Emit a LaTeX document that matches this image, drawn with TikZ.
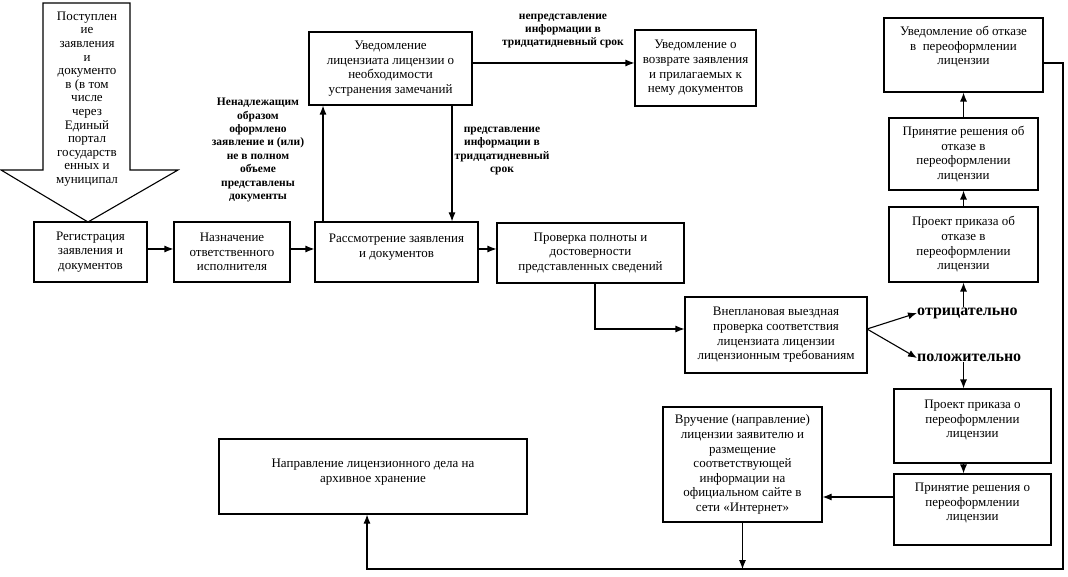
\documentclass[tikz,border=0pt]{standalone}
\usepackage{fontspec}
\setmainfont{Liberation Serif}
\usetikzlibrary{arrows.meta}
\begin{document}
\begin{tikzpicture}[x=1pt,y=-1pt,
  box/.style={draw, line width=1.1pt, align=center, inner sep=1pt, font=\fontsize{13}{14.6}\selectfont},
  txt/.style={align=center, inner sep=0pt, font=\fontsize{13}{14.6}\selectfont},
  lbl/.style={align=center, inner sep=0pt, font=\bfseries\fontsize{11.5}{13.4}\selectfont},
  big/.style={inner sep=0pt, font=\bfseries\fontsize{16}{18}\selectfont},
  arr/.style={-{Latex[length=9pt,width=7pt]}, line width=1.1pt},
  ln/.style={line width=1.1pt}]
\useasboundingbox (0,0) rectangle (1068,577);

% big incoming arrow
\draw[line width=1.1pt, line join=miter] (43,3) -- (130,3) -- (130,170) -- (178,170) -- (88,222) -- (1,170) -- (43,170) -- cycle;
\coordinate (tip) at (88,222);
\node[txt, font=\fontsize{13}{13.6}\selectfont] (intext) at (87,99) {Поступлен\\ие\\заявления\\и\\документо\\в (в том\\числе\\через\\Единый\\портал\\государств\\енных и\\муниципал};

% boxes
\node[box, minimum width=113, minimum height=60] (reg) at (90.5,252) {Регистрация\\заявления и\\документов};
\node[box, minimum width=116, minimum height=60] (nazn) at (232,252) {Назначение\\ответственного\\исполнителя};
\node[box, minimum width=163, minimum height=60] (rassm) at (396.5,252) {};
\node[txt] (rassmt) at (396.5,247) {Рассмотрение заявления\\и документов};
\node[box, minimum width=187, minimum height=60] (prov) at (590.5,253) {Проверка полноты и\\достоверности\\представленных сведений};
\node[box, minimum width=182, minimum height=76] (vnepl) at (776,335) {Внеплановая выездная\\проверка соответствия\\лицензиата лицензии\\лицензионным требованиям};
\node[box, minimum width=163, minimum height=73] (uvedl) at (390.5,68.5) {Уведомление\\лицензиата лицензии о\\необходимости\\устранения замечаний};
\node[box, minimum width=121, minimum height=76] (vozvr) at (695.5,68) {Уведомление о\\возврате заявления\\и прилагаемых к\\нему документов};
\node[box, minimum width=159, minimum height=74] (uvotk) at (963.5,55) {};
\node[txt] (uvotkt) at (963.5,47) {Уведомление об отказе\\в~~переоформлении\\лицензии};
\node[box, minimum width=149, minimum height=72] (prinotk) at (963.5,154) {Принятие решения об\\отказе в\\переоформлении\\лицензии};
\node[box, minimum width=149, minimum height=75] (proektotk) at (963.5,244.5) {Проект приказа об\\отказе в\\переоформлении\\лицензии};
\node[box, minimum width=157, minimum height=74] (proekto) at (972.5,426) {};
\node[txt] (proektot) at (972.5,420) {Проект приказа о\\переоформлении\\лицензии};
\node[box, minimum width=157, minimum height=71] (prinyo) at (972.5,509.5) {};
\node[txt] (prinyot) at (972.5,503) {Принятие решения о\\переоформлении\\лицензии};
\node[box, minimum width=159, minimum height=115] (vruch) at (742.5,464.5) {Вручение (направление)\\лицензии заявителю и\\размещение\\соответствующей\\информации на\\официальном сайте в\\сети «Интернет»};
\node[box, minimum width=308, minimum height=75] (napr) at (373,476.5) {};
\node[txt] (naprt) at (373,472) {Направление лицензионного дела на\\архивное хранение};

% labels
\node[lbl] (l1) at (258,150) {Ненадлежащим\\образом\\оформлено\\заявление и (или)\\не в полном\\объеме\\представлены\\документы};
\node[lbl] (l2) at (563,31) {непредставление\\информации в\\тридцатидневный срок};
\node[lbl] (l3) at (502,151) {представление\\информации в\\тридцатидневный\\срок};
\node[big, anchor=west] (otr) at (917,313) {отрицательно};
\node[big, anchor=west] (pol) at (917,358) {положительно};

% connectors
\coordinate (vout) at (867,329);
\coordinate (c1) at (1063,63);
\coordinate (c2) at (1063,569);
\coordinate (c3) at (367,569);

\draw[arr] ([yshift=3pt]reg.east) -- ([yshift=3pt]reg.east -| nazn.west);
\draw[arr] ([yshift=3pt]nazn.east) -- ([yshift=3pt]nazn.east -| rassm.west);
\draw[arr] ([yshift=3pt]rassm.east) -- ([yshift=3pt]rassm.east -| prov.west);
\draw[arr] ([xshift=-73.5pt]rassm.north) -- ([xshift=-73.5pt]rassm.north |- uvedl.south);
\draw[arr] ([xshift=61.5pt]uvedl.south) -- ([xshift=61.5pt]uvedl.south |- rassm.north);
\draw[arr] ([yshift=5.5pt]uvedl.east) -- ([yshift=5.5pt]uvedl.east -| vozvr.west);
\draw[arr] ([xshift=4.5pt]prov.south) |- ([yshift=6pt]vnepl.west);
\draw[arr] (vout) -- (otr.west);
\draw[arr] (vout) -- (pol.west);
\draw[arr] (proektotk.south |- otr.north) -- (proektotk.south);
\draw[arr] (proektotk) -- (prinotk);
\draw[arr] (prinotk) -- (uvotk);
\draw[arr] (pol.south -| proektotk.south) -- (proektotk.south |- proekto.north);
\draw[arr] (proektotk.south |- proekto.south) -- (proektotk.south |- prinyo.north);
\draw[arr] ([yshift=12.5pt]prinyo.west) -- ([yshift=12.5pt]prinyo.west -| vruch.east);
\draw[arr, line width=0.8pt] (vruch.south) -- (vruch.south |- c2);
\draw[arr] (uvotk.east |- c1) -- (c1) -- (c2) -- (c3) -- (c3 |- napr.south);
\end{tikzpicture}
\end{document}
